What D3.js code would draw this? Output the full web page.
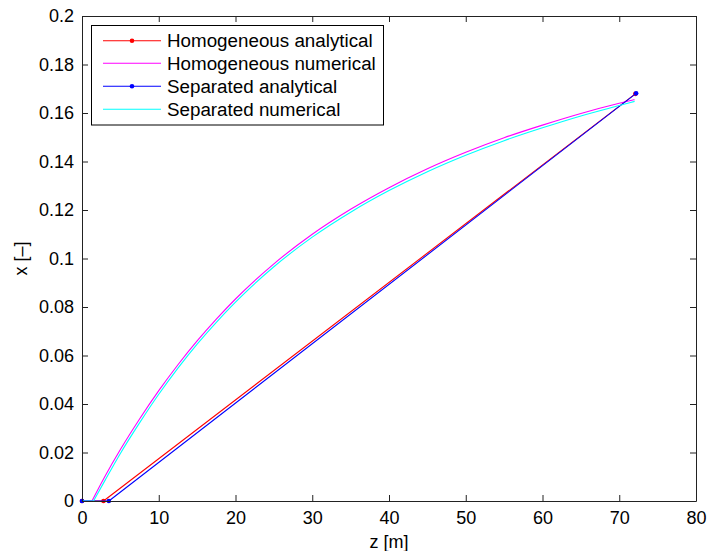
<!DOCTYPE html>
<html>
<head>
<meta charset="utf-8">
<script src="https://cdn.jsdelivr.net/npm/d3@7"></script>
<style>
  html, body { margin: 0; padding: 0; background: #fff; }
  svg { display: block; font-family: "Liberation Sans", Arial, Helvetica, sans-serif; }
</style>
</head>
<body>
<svg id="chart" width="708" height="551"></svg>
<script>
// Axial position z [m] and quality x [-] along the heated channel

// Homogeneous model, analytical solution (points joined by straight segments)
const homAnaZ = [0, 2.8, 72.1];
const homAnaX = [0, 0, 0.1679];

// Homogeneous model, numerical solution
const homNumZ = [0, 1.3, 3, 5, 7.5, 10, 12.5, 15, 17.5, 20, 25, 30, 35, 40, 45, 50, 55, 60, 65, 70, 72];
const homNumX = [0, 0, 0.0102, 0.0212, 0.0338, 0.0455, 0.0562, 0.066, 0.075, 0.0833, 0.0978, 0.11, 0.1203, 0.1292, 0.137, 0.1438, 0.1498, 0.155, 0.1598, 0.164, 0.1655];

// Separated model, analytical solution
const sepAnaZ = [0, 3.5, 72.2];
const sepAnaX = [0, 0, 0.1681];

// Separated model, numerical solution
const sepNumZ = [0, 1.5, 3, 5, 7.5, 10, 12.5, 15, 17.5, 20, 25, 30, 35, 40, 45, 50, 55, 60, 65, 70, 72];
const sepNumX = [0, 0, 0.0085, 0.0196, 0.0322, 0.044, 0.0548, 0.0647, 0.0737, 0.082, 0.0966, 0.1088, 0.1191, 0.128, 0.1358, 0.1426, 0.1486, 0.1539, 0.1588, 0.1631, 0.1648];

const xTicks = [0, 10, 20, 30, 40, 50, 60, 70, 80];
const yTicks = [0, 0.02, 0.04, 0.06, 0.08, 0.1, 0.12, 0.14, 0.16, 0.18, 0.2];

const seriesNames = ["Homogeneous analytical", "Homogeneous numerical", "Separated analytical", "Separated numerical"];
const seriesColors = ["#ff0000", "#ff00ff", "#0000ff", "#00ffff"];
const seriesMarkers = [true, false, true, false];

const xLabel = "z [m]";
const yLabel = "x [\u2013]";

const series = [
  { z: homAnaZ, x: homAnaX },
  { z: homNumZ, x: homNumX },
  { z: sepAnaZ, x: sepAnaX },
  { z: sepNumZ, x: sepNumX }
].map((s, i) => ({
  name: seriesNames[i],
  color: seriesColors[i],
  marker: seriesMarkers[i],
  pts: s.z.map((z, k) => [z, s.x[k]])
}));

const plotLeft = 82, plotRight = 696, plotTop = 16, plotBottom = 501;
const fontSize = 18;

const svg = d3.select("#chart");
const xs = d3.scaleLinear().domain([0, 80]).range([plotLeft, plotRight]);
const ys = d3.scaleLinear().domain([0, 0.2]).range([plotBottom, plotTop]);

svg.append("rect").attr("width", 708).attr("height", 551).attr("fill", "#fff");

const clip = svg.append("clipPath").attr("id", "plotclip");
clip.append("rect").attr("x", plotLeft - 4).attr("y", plotTop - 4)
  .attr("width", plotRight - plotLeft + 8).attr("height", plotBottom - plotTop + 8);

// Data lines: analytical series are straight segments; numerical ones stay flat
// until boiling starts, then follow a smooth curve
const straight = d3.line().x(d => xs(d[0])).y(d => ys(d[1]));
const smooth = d3.line().x(d => xs(d[0])).y(d => ys(d[1])).curve(d3.curveMonotoneX);
const plot = svg.append("g").attr("clip-path", "url(#plotclip)");
series.forEach(s => {
  const d = s.marker
    ? straight(s.pts)
    : straight(s.pts.slice(0, 2)) + smooth(s.pts.slice(1));
  plot.append("path")
    .attr("d", d)
    .attr("fill", "none")
    .attr("stroke", s.color)
    .attr("stroke-width", 1.1)
    .attr("stroke-linejoin", "round");
  if (s.marker) {
    plot.selectAll(null).data(s.pts).enter().append("circle")
      .attr("cx", p => xs(p[0])).attr("cy", p => ys(p[1]))
      .attr("r", 2.3).attr("fill", s.color);
  }
});

// Axes, ticks pointing inward on all four sides
const tickLen = 6;
const axisColor = "#222";
const fmtY = d => d === 0 ? "0" : d3.format("~g")(d);

const axB = d3.axisBottom(xs).tickValues(xTicks).tickSizeInner(-tickLen).tickSizeOuter(0).tickPadding(10);
const axT = d3.axisTop(xs).tickValues(xTicks).tickSizeInner(-tickLen).tickSizeOuter(0).tickFormat("");
const axL = d3.axisLeft(ys).tickValues(yTicks).tickSizeInner(-tickLen).tickSizeOuter(0).tickPadding(8).tickFormat(fmtY);
const axR = d3.axisRight(ys).tickValues(yTicks).tickSizeInner(-tickLen).tickSizeOuter(0).tickFormat("");

function styleAxis(g) {
  g.select(".domain").attr("stroke", axisColor).attr("stroke-width", 1);
  g.selectAll(".tick line").attr("stroke", axisColor).attr("stroke-width", 1);
  g.selectAll(".tick text").attr("fill", "#000").attr("font-size", fontSize)
    .attr("font-family", "\"Liberation Sans\", Arial, Helvetica, sans-serif");
}

svg.append("g").attr("transform", `translate(0,${plotBottom})`).call(axB).call(styleAxis);
svg.append("g").attr("transform", `translate(0,${plotTop})`).call(axT).call(styleAxis);
svg.append("g").attr("transform", `translate(${plotLeft},0)`).call(axL).call(styleAxis);
svg.append("g").attr("transform", `translate(${plotRight},0)`).call(axR).call(styleAxis);

// Axis labels
svg.append("text")
  .attr("x", (plotLeft + plotRight) / 2).attr("y", 548)
  .attr("text-anchor", "middle").attr("font-size", fontSize).attr("fill", "#000")
  .text(xLabel);
svg.append("text")
  .attr("transform", `translate(27,${(plotTop + plotBottom) / 2}) rotate(-90)`)
  .attr("text-anchor", "middle").attr("font-size", fontSize).attr("fill", "#000")
  .text(yLabel);

// Legend
const lg = svg.append("g");
lg.append("rect")
  .attr("x", 91.5).attr("y", 25.5).attr("width", 292).attr("height", 99.5)
  .attr("fill", "#fff").attr("stroke", "#000").attr("stroke-width", 1);
const rowY = [40.7, 63.3, 86.3, 109.3];
series.forEach((s, i) => {
  const y = rowY[i];
  lg.append("line").attr("x1", 103).attr("x2", 161).attr("y1", y).attr("y2", y)
    .attr("stroke", s.color).attr("stroke-width", 1.1);
  if (s.marker) {
    lg.append("circle").attr("cx", 132).attr("cy", y).attr("r", 2.3).attr("fill", s.color);
  }
  lg.append("text").attr("x", 167).attr("y", y).attr("dy", "0.36em")
    .attr("font-size", 18.8).attr("fill", "#000").text(s.name);
});
</script>
</body>
</html>
